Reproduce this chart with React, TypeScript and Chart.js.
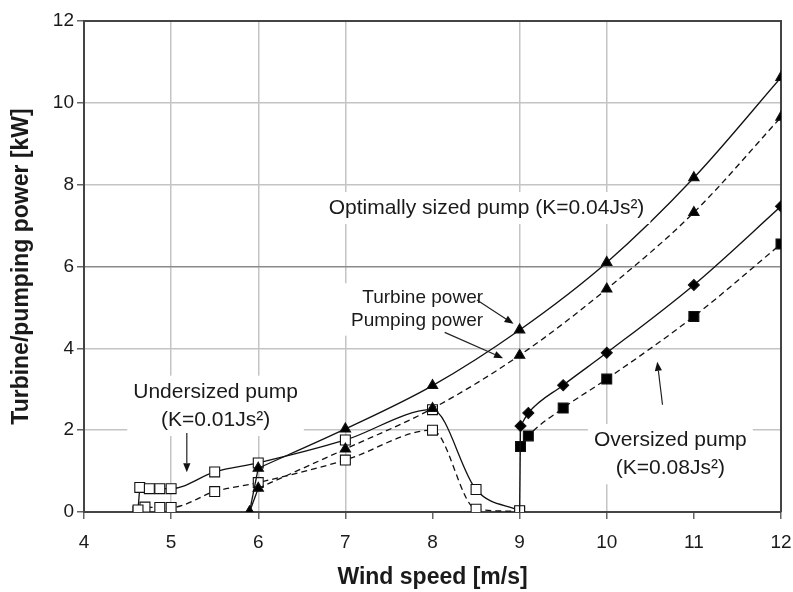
import React, { useEffect, useRef } from 'react';
import { Chart, registerables } from 'chart.js';

Chart.register(...registerables);

const FONT = '"Liberation Sans", Arial, Helvetica, sans-serif';

// Axis ticks
const xTickMin = 4;
const xTickMax = 12;
const yTickMin = 0;
const yTickMax = 12;
const hiddenVerticalGrid = [8, 11];

// Optimally sized pump (K=0.04Js²) — first point is the cut-in start
const optWind = [5.9, 6, 7, 8, 9, 10, 11, 12];
const optTurbine = [0, 1.07, 2.03, 3.09, 4.45, 6.1, 8.17, 10.62];
const optPumping = [0, 0.58, 1.54, 2.53, 3.83, 5.45, 7.32, 9.65];

// Undersized pump (K=0.01Js²)
const underTurbineWind = [4.62, 4.64, 4.75, 4.87, 5.0, 5.5, 6, 7, 8, 8.5, 9];
const underTurbine = [0.05, 0.6, 0.57, 0.57, 0.57, 0.98, 1.2, 1.76, 2.5, 0.55, 0.03];
const underPumpingWind = [4.62, 4.7, 4.87, 5.0, 5.5, 6, 7, 8, 8.5, 9];
const underPumping = [0.01, 0.12, 0.11, 0.11, 0.5, 0.72, 1.27, 2.0, 0.07, 0.02];

// Oversized pump (K=0.08Js²)
const overTurbineWind = [9, 9.01, 9.1, 9.5, 10, 11, 12];
const overTurbine = [0, 2.1, 2.42, 3.1, 3.89, 5.55, 7.47];
const overPumpingWind = [9.01, 9.1, 9.5, 10, 11, 12];
const overPumping = [1.6, 1.86, 2.54, 3.25, 4.78, 6.55];

// Annotation texts (data coordinates)
const noteLines = [
  { text: 'Optimally sized pump (K=0.04Js²)', x: 8.62, y: 7.43, align: 'center', size: 21, group: 0 },
  { text: 'Turbine power', x: 8.58, y: 5.23, align: 'right', size: 19, group: 1 },
  { text: 'Pumping power', x: 8.58, y: 4.67, align: 'right', size: 19, group: 1 },
  { text: 'Undersized pump', x: 5.51, y: 2.94, align: 'center', size: 21, group: 2 },
  { text: '(K=0.01Js²)', x: 5.51, y: 2.25, align: 'center', size: 21, group: 2 },
  { text: 'Oversized pump', x: 10.73, y: 1.76, align: 'center', size: 21, group: 3 },
  { text: '(K=0.08Js²)', x: 10.73, y: 1.07, align: 'center', size: 21, group: 3 },
];

const noteArrows = [
  { x1: 8.51, y1: 5.18, x2: 8.93, y2: 4.6 },
  { x1: 8.14, y1: 4.39, x2: 8.81, y2: 3.76 },
  { x1: 5.18, y1: 1.93, x2: 5.18, y2: 0.97 },
  { x1: 10.64, y1: 2.62, x2: 10.58, y2: 3.67 },
];

const toPoints = (xs: number[], ys: number[]) => xs.map((x, i) => ({ x, y: ys[i] }));

const overlayPlugin = {
  id: 'overlay',
  beforeDatasetsDraw(chart: any) {
    const { ctx, chartArea } = chart;
    ctx.save();
    ctx.strokeStyle = '#444';
    ctx.lineWidth = 2;
    ctx.beginPath();
    ctx.moveTo(chartArea.left, chartArea.top);
    ctx.lineTo(chartArea.right, chartArea.top);
    ctx.lineTo(chartArea.right, chartArea.bottom);
    ctx.stroke();
    ctx.restore();
  },
  afterDatasetsDraw(chart: any) {
    const { ctx } = chart;
    const xs = chart.scales.x;
    const ys = chart.scales.y;
    ctx.save();
    const boxes: Record<number, number[]> = {};
    noteLines.forEach((n) => {
      ctx.font = `${n.size}px ${FONT}`;
      const w = ctx.measureText(n.text).width;
      const px = xs.getPixelForValue(n.x);
      const py = ys.getPixelForValue(n.y);
      const l = n.align === 'center' ? px - w / 2 : px - w;
      const r = l + w;
      const t = py - n.size * 0.62;
      const b = py + n.size * 0.62;
      const bx = boxes[n.group];
      if (!bx) boxes[n.group] = [l, t, r, b];
      else boxes[n.group] = [Math.min(bx[0], l), Math.min(bx[1], t), Math.max(bx[2], r), Math.max(bx[3], b)];
    });
    ctx.fillStyle = '#fff';
    Object.values(boxes).forEach((b) => {
      ctx.fillRect(b[0] - 6, b[1] - 3, b[2] - b[0] + 12, b[3] - b[1] + 6);
    });
    ctx.fillStyle = '#1a1a1a';
    ctx.textBaseline = 'middle';
    noteLines.forEach((n) => {
      ctx.font = `${n.size}px ${FONT}`;
      ctx.textAlign = n.align as CanvasTextAlign;
      ctx.fillText(n.text, xs.getPixelForValue(n.x), ys.getPixelForValue(n.y));
    });
    ctx.strokeStyle = '#222';
    ctx.fillStyle = '#111';
    ctx.lineWidth = 1.2;
    noteArrows.forEach((a) => {
      const x1 = xs.getPixelForValue(a.x1);
      const y1 = ys.getPixelForValue(a.y1);
      const x2 = xs.getPixelForValue(a.x2);
      const y2 = ys.getPixelForValue(a.y2);
      const ang = Math.atan2(y2 - y1, x2 - x1);
      const hl = 9;
      const hw = 3.6;
      const bxp = x2 - hl * Math.cos(ang);
      const byp = y2 - hl * Math.sin(ang);
      ctx.beginPath();
      ctx.moveTo(x1, y1);
      ctx.lineTo(bxp, byp);
      ctx.stroke();
      ctx.beginPath();
      ctx.moveTo(x2, y2);
      ctx.lineTo(bxp + hw * Math.sin(ang), byp - hw * Math.cos(ang));
      ctx.lineTo(bxp - hw * Math.sin(ang), byp + hw * Math.cos(ang));
      ctx.closePath();
      ctx.fill();
    });
    ctx.restore();
  },
};

export default function App() {
  const canvasRef = useRef<HTMLCanvasElement | null>(null);

  useEffect(() => {
    if (!canvasRef.current) return;
    const lineBase = {
      showLine: true,
      borderColor: '#111',
      borderWidth: 1.3,
      cubicInterpolationMode: 'monotone' as const,
      pointBorderColor: '#111',
      pointBorderWidth: 1.1,
      pointHoverRadius: 0,
    };
    const connector = (xs: number[], ys: number[], style: string, r: number, bg: string) => ({
      showLine: true,
      borderColor: '#111',
      borderWidth: 1.3,
      tension: 0,
      data: toPoints(xs.slice(0, 2), ys.slice(0, 2)),
      pointStyle: style,
      pointRadius: [r, 0],
      pointBackgroundColor: bg,
      pointBorderColor: '#111',
      pointBorderWidth: 1.1,
      pointHoverRadius: 0,
    });
    const chart = new Chart(canvasRef.current, {
      type: 'scatter',
      data: {
        datasets: [
          {
            ...lineBase,
            label: 'Optimal turbine power',
            data: toPoints(optWind.slice(1), optTurbine.slice(1)),
            pointStyle: 'triangle',
            pointRadius: 6,
            pointBackgroundColor: '#000',
          },
          {
            ...lineBase,
            label: 'Optimal pumping power',
            data: toPoints(optWind.slice(1), optPumping.slice(1)),
            borderDash: [6, 4],
            pointStyle: 'triangle',
            pointRadius: 6,
            pointBackgroundColor: '#000',
          },
          connector(optWind, optTurbine, 'triangle', 6, '#000'),
          connector(optWind, optPumping, 'triangle', 6, '#000'),
          {
            ...lineBase,
            label: 'Oversized turbine power',
            data: toPoints(overTurbineWind.slice(1), overTurbine.slice(1)),
            pointStyle: 'rectRot',
            pointRadius: 5.5,
            pointBackgroundColor: '#000',
          },
          connector(overTurbineWind, overTurbine, 'rectRot', 0, '#000'),
          {
            ...lineBase,
            label: 'Oversized pumping power',
            data: toPoints(overPumpingWind, overPumping),
            borderDash: [6, 4],
            pointStyle: 'rect',
            pointRadius: 7,
            pointBackgroundColor: '#000',
          },
          {
            ...lineBase,
            label: 'Undersized turbine power',
            data: toPoints(underTurbineWind.slice(1), underTurbine.slice(1)),
            pointStyle: 'rect',
            pointRadius: 7,
            pointBackgroundColor: '#fff',
          },
          connector(underTurbineWind, underTurbine, 'rect', 7, '#fff'),
          {
            ...lineBase,
            label: 'Undersized pumping power',
            data: toPoints(underPumpingWind, underPumping),
            borderDash: [6, 4],
            pointStyle: 'rect',
            pointRadius: 7,
            pointBackgroundColor: '#fff',
          },
        ],
      },
      options: {
        animation: false,
        responsive: false,
        devicePixelRatio: 1,
        layout: { padding: { top: 21, right: 12, left: 0, bottom: 0 } },
        plugins: {
          legend: { display: false },
          tooltip: { enabled: false },
        },
        scales: {
          x: {
            type: 'linear',
            min: xTickMin,
            max: xTickMax,
            afterFit: (s: any) => {
              s.height = 80;
              s.paddingLeft = 0;
              s.paddingRight = 0;
            },
            ticks: {
              stepSize: 1,
              color: '#1a1a1a',
              font: { family: FONT, size: 19 },
              padding: 12,
            },
            grid: {
              color: (c: any) =>
                hiddenVerticalGrid.includes(c.tick?.value) ? 'rgba(0,0,0,0)' : '#c4c4c4',
              lineWidth: 1.5,
              tickLength: 7,
              tickColor: '#666',
            },
            border: { color: '#444', width: 2 },
            title: {
              display: true,
              text: 'Wind speed [m/s]',
              color: '#1a1a1a',
              font: { family: FONT, size: 23, weight: 'bold' },
              padding: { top: 0, bottom: 1 },
            },
          },
          y: {
            min: yTickMin,
            max: yTickMax,
            afterFit: (s: any) => {
              s.width = 84;
              s.paddingTop = 0;
              s.paddingBottom = 0;
            },
            ticks: {
              stepSize: 2,
              color: '#1a1a1a',
              font: { family: FONT, size: 19 },
              padding: 3,
            },
            grid: {
              color: (c: any) => (c.tick?.value === 6 ? '#8a8a8a' : '#c4c4c4'),
              lineWidth: 1.5,
              tickLength: 7,
              tickColor: '#666',
            },
            border: { color: '#444', width: 2 },
            title: {
              display: true,
              text: 'Turbine/pumping power [kW]',
              color: '#1a1a1a',
              font: { family: FONT, size: 23, weight: 'bold' },
              padding: { top: 8, bottom: 0 },
            },
          },
        },
      },
      plugins: [overlayPlugin],
    } as any);
    return () => chart.destroy();
  }, []);

  return (
    <div style={{ position: 'fixed', left: 0, top: 0, width: 793, height: 592, background: '#fff' }}>
      <canvas ref={canvasRef} width={793} height={592} style={{ display: 'block' }} />
    </div>
  );
}
